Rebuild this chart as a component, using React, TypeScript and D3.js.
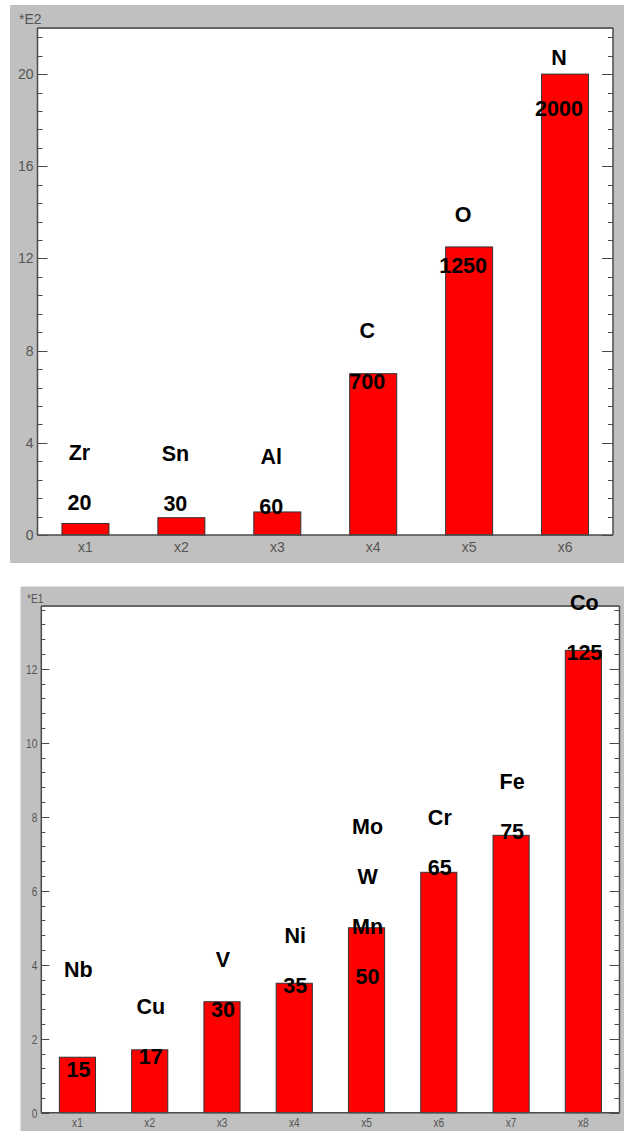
import React from 'react';
import * as d3 from 'd3';

// ---- Chart 1 data (values in *E2 units) ----
const categories1 = ['x1', 'x2', 'x3', 'x4', 'x5', 'x6'];
const values1 = [0.5, 0.75, 1.0, 7, 12.5, 20];
const elements1 = [['Zr'], ['Sn'], ['Al'], ['C'], ['O'], ['N']];
const amounts1 = ['20', '30', '60', '700', '1250', '2000'];
const labelAt1 = [1.37, 1.33, 1.2, 6.66, 11.69, 18.5];
const yMax1 = 22;
const majorStep1 = 4;
const exponent1 = '*E2';

// ---- Chart 2 data (values in *E1 units) ----
const categories2 = ['x1', 'x2', 'x3', 'x4', 'x5', 'x6', 'x7', 'x8'];
const values2 = [1.5, 1.7, 3.0, 3.5, 5.0, 6.5, 7.5, 12.5];
const elements2 = [['Nb', ''], ['Cu'], ['V'], ['Ni'], ['Mo', 'W', 'Mn'], ['Cr'], ['Fe'], ['Co']];
const amounts2 = ['15', '17', '30', '35', '50', '65', '75', '125'];
const labelAt2 = [1.155, 1.51, 2.78, 3.43, 3.67, 6.62, 7.59, 12.43];
const yMax2 = 13.7;
const majorStep2 = 2;
const exponent2 = '*E1';

type PanelProps = {
  panel: { x0: number; y0: number; x1: number; y1: number };
  plot: { left: number; top: number; right: number; bottom: number };
  categories: string[];
  values: number[];
  elements: string[][];
  amounts: string[];
  labelAt: number[];
  yMax: number;
  majorStep: number;
  exponent: string;
  padding: number;
  labelDx: number;
  lineGap: number;
  tickFont: number;
  tickScaleX: number;
  majorLen: number;
  minorLen: number;
  rMajorLen: number;
  rMinorLen: number;
  labelFont: number;
  expPos: { x: number; y: number };
  xLabelY: number;
};

function Panel(p: PanelProps) {
  const { plot } = p;
  const x = d3
    .scaleBand<string>()
    .domain(p.categories)
    .range([plot.left, plot.right])
    .paddingInner(p.padding)
    .paddingOuter(p.padding / 2);
  const y = d3.scaleLinear().domain([0, p.yMax]).range([plot.bottom, plot.top]);
  const minorStep = p.majorStep / 5;
  const ticks = d3.range(0, p.yMax + 1e-6, minorStep);
  const tickFill = '#555';
  const axisColor = '#4a4a4a';
  return (
    <g>
      <rect x={p.panel.x0} y={p.panel.y0} width={p.panel.x1 - p.panel.x0} height={p.panel.y1 - p.panel.y0} fill="#c0c0c0" />
      <rect x={plot.left} y={plot.top} width={plot.right - plot.left} height={plot.bottom - plot.top} fill="#fff" />
      {/* frame */}
      <line x1={plot.left} x2={plot.right} y1={plot.top} y2={plot.top} stroke="#666" strokeWidth={2} />
      <line x1={plot.left} x2={plot.left} y1={plot.top} y2={plot.bottom} stroke={axisColor} strokeWidth={1.5} />
      <line x1={plot.right} x2={plot.right} y1={plot.top} y2={plot.bottom} stroke={axisColor} strokeWidth={1.5} />
      {/* ticks */}
      {ticks.map((t, i) => {
        const major = i % 5 === 0;
        const yy = Math.round(y(t)) + 0.5;
        return (
          <g key={'t' + i}>
            <line x1={plot.left} x2={plot.left + (major ? p.majorLen : p.minorLen)} y1={yy} y2={yy} stroke={axisColor} strokeWidth={1} />
            <line x1={plot.right} x2={plot.right - (major ? p.rMajorLen : p.rMinorLen)} y1={yy} y2={yy} stroke={axisColor} strokeWidth={1} />
            {major && (
              <text
                transform={`translate(${plot.left - 4},${y(t)}) scale(${p.tickScaleX},1)`}
                textAnchor="end"
                dominantBaseline="central"
                fontFamily="Arial, 'Liberation Sans', sans-serif"
                fontSize={p.tickFont}
                fill={tickFill}
              >
                {d3.format('d')(t)}
              </text>
            )}
          </g>
        );
      })}
      <text
        transform={`translate(${p.expPos.x},${p.expPos.y}) scale(${p.tickScaleX},1)`}
        dominantBaseline="central"
        fontFamily="Arial, 'Liberation Sans', sans-serif"
        fontSize={p.tickFont}
        fill={tickFill}
      >
        {p.exponent}
      </text>
      {/* bars */}
      {p.categories.map((c, i) => (
        <rect
          key={'b' + c}
          x={x(c)}
          y={y(p.values[i])}
          width={x.bandwidth()}
          height={y(0) - y(p.values[i])}
          fill="#ff0000"
          stroke="#333"
          strokeWidth={1}
        />
      ))}
      {/* bottom axis */}
      <line x1={plot.left} x2={plot.right} y1={plot.bottom} y2={plot.bottom} stroke={axisColor} strokeWidth={1.5} />
      {p.categories.map((c) => (
        <text
          key={'xl' + c}
          transform={`translate(${(x(c) as number) + x.bandwidth() / 2},${p.xLabelY}) scale(${p.tickScaleX},1)`}
          textAnchor="middle"
          dominantBaseline="central"
          fontFamily="Arial, 'Liberation Sans', sans-serif"
          fontSize={p.tickFont}
          fill={tickFill}
        >
          {c}
        </text>
      ))}
      {/* annotations */}
      {p.categories.map((c, i) => {
        const cx = (x(c) as number) + x.bandwidth() / 2 + p.labelDx;
        const base = y(p.labelAt[i]);
        const lines = [...p.elements[i], p.amounts[i]];
        const n = lines.length;
        return (
          <g key={'a' + c}>
            {lines.map((ln, j) => (
              <text
                key={j}
                x={cx}
                y={base - (n - 1 - j) * p.lineGap}
                textAnchor="middle"
                dominantBaseline="central"
                fontFamily="Arial, 'Liberation Sans', sans-serif"
                fontWeight="bold"
                fontSize={p.labelFont}
                fill="#000"
              >
                {ln}
              </text>
            ))}
          </g>
        );
      })}
    </g>
  );
}

export default function App() {
  return (
    <svg width={624} height={1131} style={{ position: 'absolute', left: 0, top: 0, background: '#fff' }}>
      <Panel
        panel={{ x0: 10, y0: 5, x1: 624, y1: 563 }}
        plot={{ left: 37.5, top: 28, right: 613, bottom: 535 }}
        categories={categories1}
        values={values1}
        elements={elements1}
        amounts={amounts1}
        labelAt={labelAt1}
        yMax={yMax1}
        majorStep={majorStep1}
        exponent={exponent1}
        padding={0.51}
        labelDx={-6}
        lineGap={50.5}
        tickFont={14}
        tickScaleX={1}
        majorLen={10}
        minorLen={5}
        rMajorLen={11}
        rMinorLen={5}
        labelFont={21.5}
        expPos={{ x: 19, y: 19 }}
        xLabelY={547}
      />
      <Panel
        panel={{ x0: 20.5, y0: 586.5, x1: 624, y1: 1131 }}
        plot={{ left: 41.3, top: 606, right: 619.5, bottom: 1112.7 }}
        categories={categories2}
        values={values2}
        elements={elements2}
        amounts={amounts2}
        labelAt={labelAt2}
        yMax={yMax2}
        majorStep={majorStep2}
        exponent={exponent2}
        padding={0.5}
        labelDx={1}
        lineGap={50}
        tickFont={13}
        tickScaleX={0.78}
        majorLen={8}
        minorLen={4}
        rMajorLen={10}
        rMinorLen={5}
        labelFont={21.5}
        expPos={{ x: 27, y: 598 }}
        xLabelY={1121.7}
      />
    </svg>
  );
}
